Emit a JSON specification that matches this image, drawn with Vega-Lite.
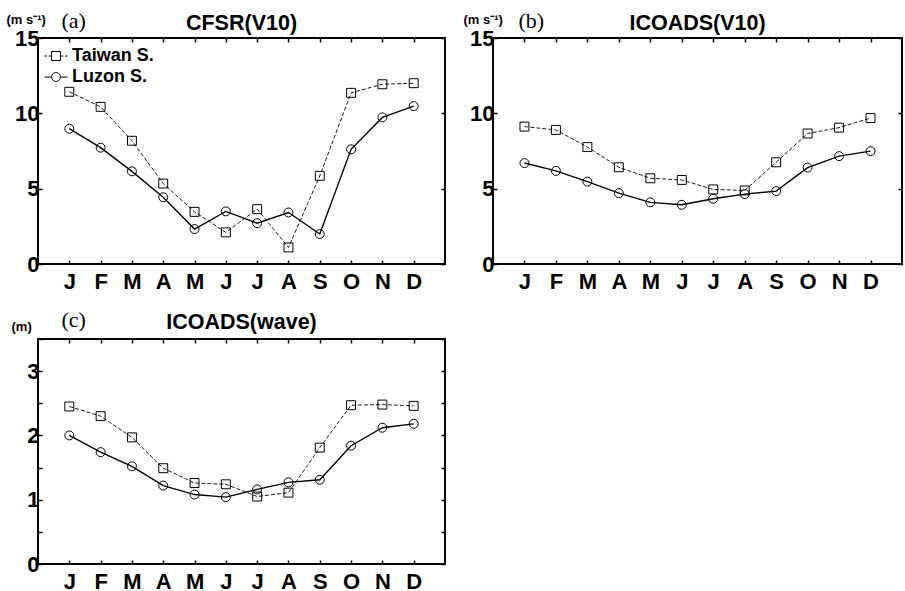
{
  "$schema": "https://vega.github.io/schema/vega-lite/v6.json",
  "background": "white",
  "padding": {"left": 5, "top": 8, "right": 0, "bottom": 0},
  "datasets": {
    "a": [
      {"m": 1, "s": "Taiwan S.", "v": 11.43}, {"m": 2, "s": "Taiwan S.", "v": 10.43}, {"m": 3, "s": "Taiwan S.", "v": 8.18}, {"m": 4, "s": "Taiwan S.", "v": 5.34}, {"m": 5, "s": "Taiwan S.", "v": 3.46}, {"m": 6, "s": "Taiwan S.", "v": 2.10}, {"m": 7, "s": "Taiwan S.", "v": 3.64}, {"m": 8, "s": "Taiwan S.", "v": 1.10}, {"m": 9, "s": "Taiwan S.", "v": 5.85}, {"m": 10, "s": "Taiwan S.", "v": 11.36}, {"m": 11, "s": "Taiwan S.", "v": 11.93}, {"m": 12, "s": "Taiwan S.", "v": 12.0},
      {"m": 1, "s": "Luzon S.", "v": 8.98}, {"m": 2, "s": "Luzon S.", "v": 7.72}, {"m": 3, "s": "Luzon S.", "v": 6.15}, {"m": 4, "s": "Luzon S.", "v": 4.43}, {"m": 5, "s": "Luzon S.", "v": 2.32}, {"m": 6, "s": "Luzon S.", "v": 3.49}, {"m": 7, "s": "Luzon S.", "v": 2.71}, {"m": 8, "s": "Luzon S.", "v": 3.42}, {"m": 9, "s": "Luzon S.", "v": 1.99}, {"m": 10, "s": "Luzon S.", "v": 7.61}, {"m": 11, "s": "Luzon S.", "v": 9.73}, {"m": 12, "s": "Luzon S.", "v": 10.48}
    ],
    "b": [
      {"m": 1, "s": "Taiwan S.", "v": 9.12}, {"m": 2, "s": "Taiwan S.", "v": 8.90}, {"m": 3, "s": "Taiwan S.", "v": 7.76}, {"m": 4, "s": "Taiwan S.", "v": 6.42}, {"m": 5, "s": "Taiwan S.", "v": 5.69}, {"m": 6, "s": "Taiwan S.", "v": 5.58}, {"m": 7, "s": "Taiwan S.", "v": 4.95}, {"m": 8, "s": "Taiwan S.", "v": 4.88}, {"m": 9, "s": "Taiwan S.", "v": 6.75}, {"m": 10, "s": "Taiwan S.", "v": 8.66}, {"m": 11, "s": "Taiwan S.", "v": 9.05}, {"m": 12, "s": "Taiwan S.", "v": 9.69},
      {"m": 1, "s": "Luzon S.", "v": 6.70}, {"m": 2, "s": "Luzon S.", "v": 6.18}, {"m": 3, "s": "Luzon S.", "v": 5.47}, {"m": 4, "s": "Luzon S.", "v": 4.70}, {"m": 5, "s": "Luzon S.", "v": 4.09}, {"m": 6, "s": "Luzon S.", "v": 3.93}, {"m": 7, "s": "Luzon S.", "v": 4.33}, {"m": 8, "s": "Luzon S.", "v": 4.64}, {"m": 9, "s": "Luzon S.", "v": 4.84}, {"m": 10, "s": "Luzon S.", "v": 6.40}, {"m": 11, "s": "Luzon S.", "v": 7.16}, {"m": 12, "s": "Luzon S.", "v": 7.49}
    ],
    "c": [
      {"m": 1, "s": "Taiwan S.", "v": 2.45}, {"m": 2, "s": "Taiwan S.", "v": 2.30}, {"m": 3, "s": "Taiwan S.", "v": 1.97}, {"m": 4, "s": "Taiwan S.", "v": 1.49}, {"m": 5, "s": "Taiwan S.", "v": 1.26}, {"m": 6, "s": "Taiwan S.", "v": 1.24}, {"m": 7, "s": "Taiwan S.", "v": 1.05}, {"m": 8, "s": "Taiwan S.", "v": 1.11}, {"m": 9, "s": "Taiwan S.", "v": 1.81}, {"m": 10, "s": "Taiwan S.", "v": 2.47}, {"m": 11, "s": "Taiwan S.", "v": 2.48}, {"m": 12, "s": "Taiwan S.", "v": 2.46},
      {"m": 1, "s": "Luzon S.", "v": 2.00}, {"m": 2, "s": "Luzon S.", "v": 1.74}, {"m": 3, "s": "Luzon S.", "v": 1.52}, {"m": 4, "s": "Luzon S.", "v": 1.22}, {"m": 5, "s": "Luzon S.", "v": 1.08}, {"m": 6, "s": "Luzon S.", "v": 1.04}, {"m": 7, "s": "Luzon S.", "v": 1.16}, {"m": 8, "s": "Luzon S.", "v": 1.27}, {"m": 9, "s": "Luzon S.", "v": 1.31}, {"m": 10, "s": "Luzon S.", "v": 1.84}, {"m": 11, "s": "Luzon S.", "v": 2.12}, {"m": 12, "s": "Luzon S.", "v": 2.18}
    ]
  },
  "columns": 2,
  "bounds": "flush",
  "spacing": {"column": 48, "row": 75},
  "resolve": {"scale": {"x": "independent", "y": "independent", "shape": "independent"}},
  "concat": [
    {
      "width": 407, "height": 226,
      "title": {"text": "CFSR(V10)", "offset": -25},
      "data": {"name": "a"},
      "layer": [
        {
          "transform": [{"filter": "datum.s === 'Taiwan S.'"}],
          "mark": {"type": "line", "color": "black", "strokeDash": [4, 2], "strokeWidth": 0.9},
          "encoding": {
            "x": {"field": "m", "type": "quantitative", "scale": {"domain": [0, 13], "nice": false, "zero": false}, "axis": {"orient": "bottom", "values": [1,2,3,4,5,6,7,8,9,10,11,12], "labelExpr": "['J','F','M','A','M','J','J','A','S','O','N','D'][datum.value-1]", "title": null, "labelPadding": 11, "labelBaseline": "top"}},
            "y": {"field": "v", "type": "quantitative", "scale": {"domain": [0, 15], "nice": false}, "axis": {"orient": "left", "values": [0, 5, 10, 15], "labelPadding": 3, "title": "(m s⁻¹)", "titleAngle": 0, "titleAlign": "left", "titleBaseline": "alphabetic", "titleX": -32, "titleY": -15, "titleFontSize": 13, "titleFontWeight": "bold", "titleFont": "Liberation Sans"}}
          }
        },
        {
          "transform": [{"filter": "datum.s === 'Luzon S.'"}],
          "mark": {"type": "line", "color": "black", "strokeWidth": 1.4},
          "encoding": {
            "x": {"field": "m", "type": "quantitative", "axis": null},
            "y": {"field": "v", "type": "quantitative", "axis": null}
          }
        },
        {
          "mark": {"type": "point", "filled": false, "color": "black", "size": 80, "strokeWidth": 1, "opacity": 1},
          "encoding": {
            "x": {"field": "m", "type": "quantitative", "axis": {"orient": "top", "values": [1,2,3,4,5,6,7,8,9,10,11,12], "labels": false, "title": "(a)", "titleFont": "Liberation Serif", "titleFontWeight": "normal", "titleFontSize": 22, "titleX": 23, "titleY": -11, "titleAlign": "left", "titleBaseline": "alphabetic"}},
            "y": {"field": "v", "type": "quantitative", "axis": {"orient": "right", "values": [0, 5, 10, 15], "labels": false, "title": null}},
            "shape": {"field": "s", "type": "nominal", "scale": {"domain": ["Taiwan S.", "Luzon S."], "range": ["square", "circle"]}, "legend": null}
          }
        },
        {
          "mark": {"type": "point", "filled": false, "color": "black", "opacity": 0},
          "encoding": {
            "x": {"field": "m", "type": "quantitative", "axis": null},
            "y": {"field": "v", "type": "quantitative", "axis": null},
            "shape": {"field": "s", "type": "nominal", "scale": {"domain": ["Taiwan S.", "Luzon S."], "range": ["M-1,0H-0.8M-0.64,0H-0.39M0.39,0H0.64M0.8,0H1M-0.39,-0.39H0.39V0.39H-0.39Z", "M-1,0H-0.39M0.39,0H1M-0.39,0A0.39,0.39 0 1,1 0.39,0A0.39,0.39 0 1,1 -0.39,0Z"]},
              "legend": {"title": null, "orient": "top-left", "offset": 6, "padding": 0, "symbolSize": 529, "symbolOpacity": 1, "symbolStrokeColor": "black", "symbolFillColor": "transparent", "symbolStrokeWidth": 1, "labelOffset": 4, "rowPadding": -2, "labelFont": "Liberation Sans", "labelFontWeight": "bold", "labelFontSize": 18, "labelColor": "black"}}
          }
        }
      ],
      "resolve": {"axis": {"x": "independent", "y": "independent"}, "scale": {"shape": "independent"}}
    },
    {
      "width": 409, "height": 226,
      "title": {"text": "ICOADS(V10)", "offset": -25},
      "data": {"name": "b"},
      "layer": [
        {
          "transform": [{"filter": "datum.s === 'Taiwan S.'"}],
          "mark": {"type": "line", "color": "black", "strokeDash": [4, 2], "strokeWidth": 0.9},
          "encoding": {
            "x": {"field": "m", "type": "quantitative", "scale": {"domain": [0, 13], "nice": false, "zero": false}, "axis": {"orient": "bottom", "values": [1,2,3,4,5,6,7,8,9,10,11,12], "labelExpr": "['J','F','M','A','M','J','J','A','S','O','N','D'][datum.value-1]", "title": null, "labelPadding": 11, "labelBaseline": "top"}},
            "y": {"field": "v", "type": "quantitative", "scale": {"domain": [0, 15], "nice": false}, "axis": {"orient": "left", "values": [0, 5, 10, 15], "labelPadding": 3, "title": "(m s⁻¹)", "titleAngle": 0, "titleAlign": "left", "titleBaseline": "alphabetic", "titleX": -30, "titleY": -15, "titleFontSize": 13, "titleFontWeight": "bold", "titleFont": "Liberation Sans"}}
          }
        },
        {
          "transform": [{"filter": "datum.s === 'Luzon S.'"}],
          "mark": {"type": "line", "color": "black", "strokeWidth": 1.4},
          "encoding": {
            "x": {"field": "m", "type": "quantitative", "axis": null},
            "y": {"field": "v", "type": "quantitative", "axis": null}
          }
        },
        {
          "mark": {"type": "point", "filled": false, "color": "black", "size": 80, "strokeWidth": 1, "opacity": 1},
          "encoding": {
            "x": {"field": "m", "type": "quantitative", "axis": {"orient": "top", "values": [1,2,3,4,5,6,7,8,9,10,11,12], "labels": false, "title": "(b)", "titleFont": "Liberation Serif", "titleFontWeight": "normal", "titleFontSize": 22, "titleX": 25, "titleY": -11, "titleAlign": "left", "titleBaseline": "alphabetic"}},
            "y": {"field": "v", "type": "quantitative", "axis": {"orient": "right", "values": [0, 5, 10, 15], "labels": false, "title": null}},
            "shape": {"field": "s", "type": "nominal", "scale": {"domain": ["Taiwan S.", "Luzon S."], "range": ["square", "circle"]}, "legend": null}
          }
        }
      ],
      "resolve": {"axis": {"x": "independent", "y": "independent"}}
    },
    {
      "width": 407, "height": 225,
      "title": {"text": "ICOADS(wave)", "offset": -25},
      "data": {"name": "c"},
      "layer": [
        {
          "transform": [{"filter": "datum.s === 'Taiwan S.'"}],
          "mark": {"type": "line", "color": "black", "strokeDash": [4, 2], "strokeWidth": 0.9},
          "encoding": {
            "x": {"field": "m", "type": "quantitative", "scale": {"domain": [0, 13], "nice": false, "zero": false}, "axis": {"orient": "bottom", "values": [1,2,3,4,5,6,7,8,9,10,11,12], "labelExpr": "['J','F','M','A','M','J','J','A','S','O','N','D'][datum.value-1]", "title": null, "labelPadding": 11, "labelBaseline": "top"}},
            "y": {"field": "v", "type": "quantitative", "scale": {"domain": [0, 3.5], "nice": false}, "axis": {"orient": "left", "values": [0, 0.5, 1, 1.5, 2, 2.5, 3, 3.5], "labelExpr": "datum.value % 1 === 0 ? format(datum.value, 'd') : ''", "labelPadding": 3, "title": "(m)", "titleAngle": 0, "titleAlign": "left", "titleBaseline": "alphabetic", "titleX": -27, "titleY": -9, "titleFontSize": 13, "titleFontWeight": "bold", "titleFont": "Liberation Sans"}}
          }
        },
        {
          "transform": [{"filter": "datum.s === 'Luzon S.'"}],
          "mark": {"type": "line", "color": "black", "strokeWidth": 1.4},
          "encoding": {
            "x": {"field": "m", "type": "quantitative", "axis": null},
            "y": {"field": "v", "type": "quantitative", "axis": null}
          }
        },
        {
          "mark": {"type": "point", "filled": false, "color": "black", "size": 80, "strokeWidth": 1, "opacity": 1},
          "encoding": {
            "x": {"field": "m", "type": "quantitative", "axis": {"orient": "top", "values": [1,2,3,4,5,6,7,8,9,10,11,12], "labels": false, "title": "(c)", "titleFont": "Liberation Serif", "titleFontWeight": "normal", "titleFontSize": 22, "titleX": 23, "titleY": -13, "titleAlign": "left", "titleBaseline": "alphabetic"}},
            "y": {"field": "v", "type": "quantitative", "axis": {"orient": "right", "values": [0, 0.5, 1, 1.5, 2, 2.5, 3, 3.5], "labels": false, "title": null}},
            "shape": {"field": "s", "type": "nominal", "scale": {"domain": ["Taiwan S.", "Luzon S."], "range": ["square", "circle"]}, "legend": null}
          }
        }
      ],
      "resolve": {"axis": {"x": "independent", "y": "independent"}}
    }
  ],
  "config": {
    "view": {"stroke": "black", "strokeWidth": 2},
    "axis": {"domain": false, "grid": false, "tickSize": -4, "tickColor": "black", "tickWidth": 1.5, "labelFont": "Liberation Sans", "labelFontWeight": "bold", "labelFontSize": 22, "labelColor": "black", "titleColor": "black"},
    "title": {"font": "Liberation Sans", "fontWeight": "bold", "fontSize": 21.5, "color": "black", "anchor": "middle", "baseline": "alphabetic"}
  }
}
